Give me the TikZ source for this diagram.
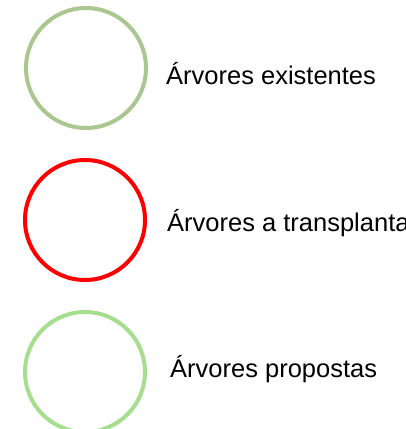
\documentclass[tikz,border=0pt]{standalone}
\usepackage{fontspec}
\setmainfont{Liberation Sans}
\definecolor{existgreen}{RGB}{170,198,145}
\definecolor{propgreen}{RGB}{166,222,143}
\definecolor{transred}{RGB}{255,0,0}
\begin{document}
\begin{tikzpicture}[x=1pt,y=1pt,
  ring/.style={draw, circle, line width=4pt, minimum size=120pt, inner sep=0pt},
  label/.style={anchor=base west, inner sep=0pt, font=\fontsize{25.5}{30}\selectfont}]
\useasboundingbox (0,0) rectangle (405,429);
\clip (0,0) rectangle (405,429);
\node[ring, draw=existgreen] (c1) at (86,361) {};
\node[ring, draw=transred] (c2) at (85,209) {};
\node[ring, draw=propgreen] (c3) at (85,57) {};
\node[label] (t1) at (166,344) {Árvores existentes};
\node[label] (t2) at (167,197) {Árvores a transplantar};
\node[label] (t3) at (170,52) {Árvores propostas};
\end{tikzpicture}
\end{document}
